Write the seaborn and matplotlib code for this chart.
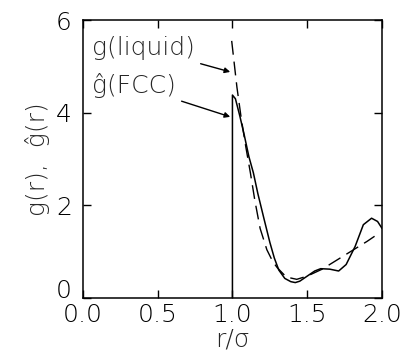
import pandas as pd
import matplotlib
matplotlib.use("Agg")
import matplotlib.pyplot as plt
import seaborn as sns

# 液体 g(r) (破線)
r_liquid = [0.995, 1.03, 1.06, 1.09, 1.12, 1.15, 1.185, 1.23, 1.27, 1.30,
            1.36, 1.43, 1.50, 1.60, 1.70, 1.80, 1.90, 1.95]
g_liquid = [5.55, 4.55, 3.85, 3.25, 2.70, 2.10, 1.50, 1.04, 0.78, 0.65,
            0.45, 0.40, 0.47, 0.62, 0.82, 1.02, 1.22, 1.33]

# FCC ĝ(r) (実線)
r_fcc = [1.0, 1.0, 1.02, 1.05, 1.08, 1.11, 1.14, 1.17, 1.21, 1.25, 1.28,
         1.31, 1.35, 1.39, 1.42, 1.45, 1.50, 1.55, 1.59, 1.65, 1.71, 1.76,
         1.82, 1.875, 1.93, 1.97, 2.0]
g_fcc = [0.0, 4.38, 4.30, 3.92, 3.50, 3.05, 2.70, 2.25, 1.72, 1.20, 0.86,
         0.60, 0.42, 0.35, 0.33, 0.36, 0.47, 0.58, 0.63, 0.62, 0.58, 0.72,
         1.11, 1.58, 1.72, 1.65, 1.50]

x_ticks = [0.0, 0.5, 1.0, 1.5, 2.0]
y_ticks = [0, 2, 4, 6]

sns.set_style("ticks")
plt.rcParams['font.family'] = ['DejaVu Sans']
plt.rcParams['font.weight'] = 'light'
plt.rcParams['axes.labelweight'] = 'light'

df_liq = pd.DataFrame({'r': r_liquid, 'g': g_liquid})
df_fcc = pd.DataFrame({'r': r_fcc, 'g': g_fcc})

fig = plt.figure(figsize=(4.06, 3.58), dpi=100)
ax = fig.add_axes([0.204, 0.168, 0.737, 0.776])

sns.lineplot(data=df_fcc, x='r', y='g', estimator=None, sort=False,
             color='black', linewidth=1.1, ax=ax)
sns.lineplot(data=df_liq, x='r', y='g', estimator=None, sort=False,
             color='black', linewidth=1.0, linestyle=(0, (10, 5)), ax=ax)

ax.set_xlim(0, 2)
ax.set_ylim(0, 6)
ax.set_xticks(x_ticks)
ax.set_xticklabels([f'{v:.1f}' for v in x_ticks], fontweight='light')
ax.set_yticks(y_ticks)
ax.set_yticklabels([str(v) for v in y_ticks], fontweight='light')
ax.tick_params(direction='in', length=6, width=1, top=True, right=True,
               labelsize=18, colors='black')
ax.tick_params(axis='x', pad=4)
ax.tick_params(axis='y', pad=8)
# 0 のラベルは少し上に
ax.get_yticklabels()[0].set_va('baseline')
for s in ax.spines.values():
    s.set_linewidth(1.1)
    s.set_color('black')

ax.set_xlabel('r/σ', fontsize=18, labelpad=0, fontweight='light')
ax.set_ylabel('g(r),  ĝ(r)', fontsize=18, labelpad=4, fontweight='light')

ax.annotate('g(liquid)', xy=(0.985, 4.88), xytext=(0.06, 5.4),
            fontsize=18, va='center', ha='left', fontweight='light',
            arrowprops=dict(arrowstyle='-|>', color='black', lw=1,
                            shrinkA=2, shrinkB=0, mutation_scale=8))
ax.annotate('ĝ(FCC)', xy=(0.985, 3.91), xytext=(0.06, 4.58),
            fontsize=18, va='center', ha='left', fontweight='light',
            arrowprops=dict(arrowstyle='-|>', color='black', lw=1,
                            shrinkA=2, shrinkB=0, mutation_scale=8))

fig.savefig('out.png', dpi=100)
